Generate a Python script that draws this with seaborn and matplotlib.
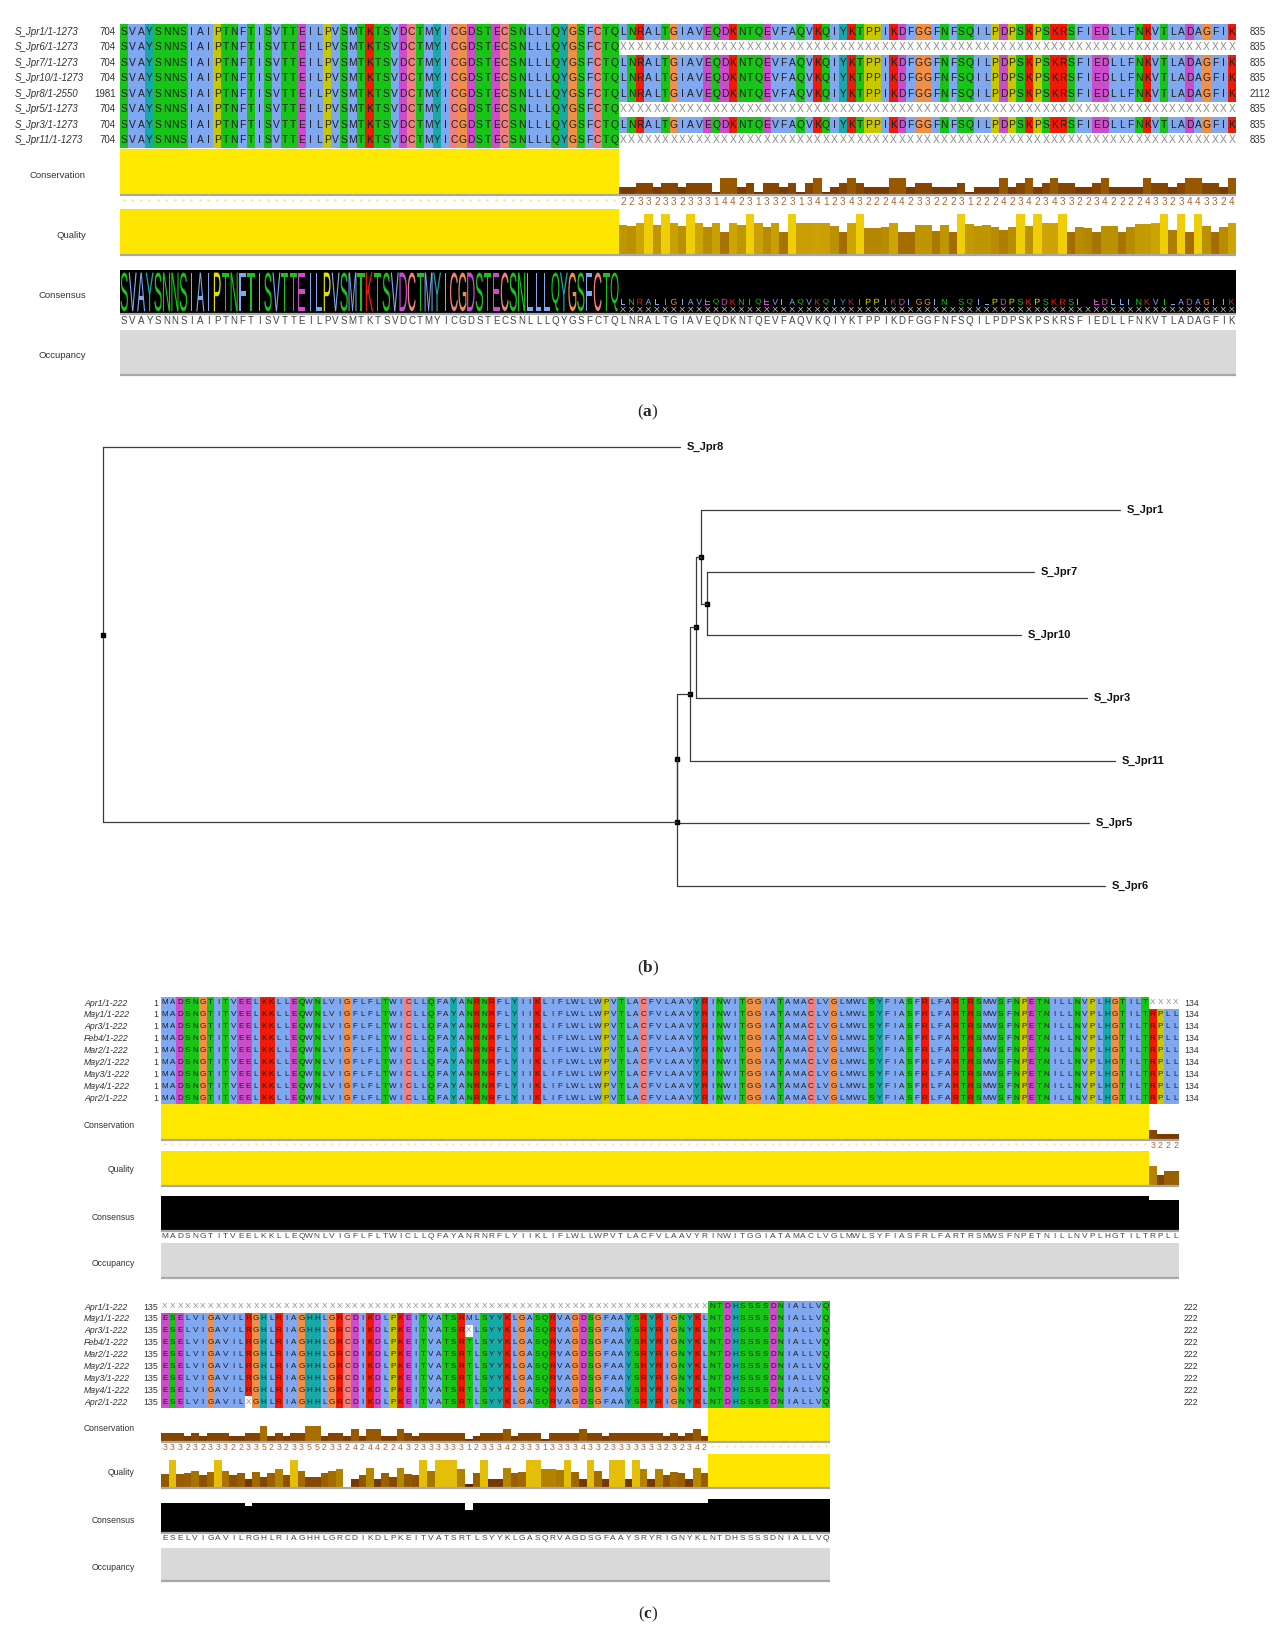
import numpy as np
import matplotlib
matplotlib.use("Agg")
import matplotlib.pyplot as plt
import seaborn as sns
from matplotlib.colors import ListedColormap, LinearSegmentedColormap
from matplotlib.textpath import TextPath
from matplotlib.patches import PathPatch
from matplotlib.font_manager import FontProperties
from matplotlib.transforms import Affine2D

sns.set_style("white")
plt.rcParams['font.family'] = ['Liberation Sans', 'DejaVu Sans']
plt.rcParams['mathtext.fontset'] = 'custom'
plt.rcParams['mathtext.rm'] = 'Liberation Serif'
plt.rcParams['mathtext.bf'] = 'Liberation Serif:bold'

# ---------------- DATA ----------------
# Panel (a)
A_FULL = "SVAYSNNSIAIPTNFTISVTTEILPVSMTKTSVDCTMYICGDSTECSNLLLQYGSFCTQLNRALTGIAVEQDKNTQEVFAQVKQIYKTPPIKDFGGFNFSQILPDPSKPSKRSFIEDLLFNKVTLADAGFIK"
A_PART = "SVAYSNNSIAIPTNFTISVTTEILPVSMTKTSVDCTMYICGDSTECSNLLLQYGSFCTQ" + "X" * 73
A_LABELS = ["S_Jpr1/1-1273", "S_Jpr6/1-1273", "S_Jpr7/1-1273", "S_Jpr10/1-1273",
            "S_Jpr8/1-2550", "S_Jpr5/1-1273", "S_Jpr3/1-1273", "S_Jpr11/1-1273"]
A_START = [704, 704, 704, 704, 1981, 704, 704, 704]
A_END = [835, 835, 835, 835, 2112, 835, 835, 835]
A_SEQS = [A_FULL, A_PART, A_FULL, A_FULL, A_FULL, A_PART, A_FULL, A_PART]
A_CONS = [11] * 59 + [2, 2, 3, 3, 2, 3, 3, 2, 3, 3,
                      3, 1, 4, 4, 2, 3, 1, 3, 3, 2,
                      3, 1, 3, 4, 1, 2, 3, 4, 3, 2,
                      2, 2, 4, 4, 2, 3, 3, 2, 2, 2,
                      3, 1, 2, 2, 2, 4, 2, 3, 4, 2,
                      3, 4, 3, 3, 2, 2, 3, 4, 2, 2,
                      2, 2, 4, 3, 3, 2, 3, 4, 4, 3,
                      3, 2, 4]
A_QUAL = [1.0] * 59 + [0.64, 0.62, 0.70, 0.88, 0.64, 0.88, 0.68, 0.62, 0.88, 0.70,
                       0.60, 0.68, 0.50, 0.70, 0.64, 0.88, 0.68, 0.60, 0.68, 0.50,
                       0.88, 0.68, 0.68, 0.69, 0.68, 0.62, 0.48, 0.70, 0.88, 0.58,
                       0.58, 0.60, 0.70, 0.48, 0.48, 0.64, 0.64, 0.52, 0.64, 0.48,
                       0.88, 0.66, 0.63, 0.64, 0.60, 0.54, 0.60, 0.88, 0.62, 0.88,
                       0.70, 0.70, 0.88, 0.48, 0.60, 0.58, 0.50, 0.62, 0.62, 0.50,
                       0.60, 0.66, 0.66, 0.70, 0.88, 0.54, 0.88, 0.48, 0.88, 0.62,
                       0.48, 0.60, 0.70]

# Panel (b) tree: (child, branch length); child is a leaf name or a list of children
TREE = [("S_Jpr8", 0.577),
        ([([([([([("S_Jpr1", 0.419),
                   ([("S_Jpr7", 0.327), ("S_Jpr10", 0.314)], 0.006)], 0.005),
                 ("S_Jpr3", 0.391)], 0.006),
               ("S_Jpr11", 0.425)], 0.013),
             ("S_Jpr5", 0.412)], 0.0),
          ("S_Jpr6", 0.428)], 0.574)]

# Panel (c)
C_LABELS = ["Apr1/1-222", "May1/1-222", "Apr3/1-222", "Feb4/1-222", "Mar2/1-222",
            "May2/1-222", "May3/1-222", "May4/1-222", "Apr2/1-222"]
C1_FULL = "MADSNGTITVEELKKLLEQWNLVIGFLFLTWICLLQFAYANRNRFLYIIKLIFLWLLWPVTLACFVLAAVYRINWITGGIATAMACLVGLMWLSYFIASFRLFARTRSMWSFNPETNILLNVPLHGTILTRPLL"
C1_APR1 = "MADSNGTITVEELKKLLEQWNLVIGFLFLTWICLLQFAYANRNRFLYIIKLIFLWLLWPVTLACFVLAAVYRINWITGGIATAMACLVGLMWLSYFIASFRLFARTRSMWSFNPETNILLNVPLHGTILTXXXX"
C1_SEQS = [C1_APR1] + [C1_FULL] * 8
C2_FULL = "ESELVIGAVILRGHLRIAGHHLGRCDIKDLPKEITVATSRTLSYYKLGASQRVAGDSGFAAYSRYRIGNYKLNTDHSSSSDNIALLVQ"
C2_APR1 = "X" * 72 + "NTDHSSSSDNIALLVQ"
C2_MAY1 = "ESELVIGAVILRGHLRIAGHHLGRCDIKDLPKEITVATSRMLSYYKLGASQRVAGDSGFAAYSRYRIGNYKLNTDHSSSSDNIALLVQ"
C2_APR3 = "ESELVIGAVILRGHLRIAGHHLGRCDIKDLPKEITVATSRXLSYYKLGASQRVAGDSGFAAYSRYRIGNYKLNTDHSSSSDNIALLVQ"
C2_APR2 = "ESELVIGAVILXGHLRIAGHHLGRCDIKDLPKEITVATSRTLSYYKLGASQRVAGDSGFAAYSRYRIGNYKLNTDHSSSSDNIALLVQ"
C2_SEQS = [C2_APR1, C2_MAY1, C2_APR3, C2_FULL, C2_FULL, C2_FULL, C2_FULL, C2_FULL, C2_APR2]
C1_CONS = [11] * 130 + [3, 2, 2, 2]
C1_QUAL = [1.0] * 130 + [0.56, 0.30, 0.42, 0.42]
C2_CONS = [3, 3, 3, 2, 3, 2, 3, 3, 3, 2,
           2, 3, 3, 5, 2, 3, 2, 3, 3, 5,
           5, 2, 3, 3, 2, 4, 2, 4, 4, 2,
           2, 4, 3, 2, 3, 3, 3, 3, 3, 3,
           1, 2, 3, 3, 3, 4, 2, 3, 3, 3,
           1, 3, 3, 3, 3, 4, 3, 3, 2, 3,
           3, 3, 3, 3, 3, 3, 2, 3, 2, 3,
           4, 2] + [11] * 16
C2_QUAL = [0.39, 0.81, 0.40, 0.42, 0.50, 0.35, 0.46, 0.81, 0.50, 0.35,
           0.41, 0.23, 0.46, 0.30, 0.42, 0.56, 0.35, 0.81, 0.47, 0.31,
           0.31, 0.42, 0.47, 0.56, 0.00, 0.23, 0.37, 0.58, 0.23, 0.42,
           0.31, 0.58, 0.39, 0.35, 0.81, 0.50, 0.81, 0.81, 0.81, 0.56,
           0.10, 0.42, 0.81, 0.23, 0.23, 0.58, 0.42, 0.46, 0.81, 0.81,
           0.56, 0.56, 0.53, 0.81, 0.46, 0.23, 0.81, 0.47, 0.23, 0.81,
           0.81, 0.23, 0.81, 0.56, 0.23, 0.56, 0.35, 0.46, 0.42, 0.23,
           0.58, 0.41] + [1.0] * 16

# ---------------- STYLE ----------------
CLASS = {'A': 1, 'I': 1, 'L': 1, 'M': 1, 'F': 1, 'W': 1, 'V': 1,
         'K': 2, 'R': 2, 'N': 3, 'Q': 3, 'S': 3, 'T': 3, 'E': 4, 'D': 4,
         'G': 5, 'P': 6, 'H': 7, 'Y': 7, 'C': 8, 'X': 0}
COLORS = ['#ffffff', '#80a8f0', '#f01a08', '#18c418', '#cc4ccc', '#f09048',
          '#c8c800', '#18a8a8', '#f08080']
LOGO_COLORS = ['#d0d0d0', '#80a8f0', '#f01a08', '#18c418', '#cc4ccc', '#f09048',
               '#e0e000', '#18a8a8', '#f08080']
CONS_COL = {1: '#6b3000', 2: '#7a3a00', 3: '#864600', 4: '#975800', 5: '#a86e00', 11: '#ffe800'}
QCMAP = LinearSegmentedColormap.from_list(
    'q', [(0, '#4a2000'), (0.25, '#7a3c00'), (0.45, '#a06600'), (0.6, '#b88c00'),
          (0.83, '#e8c20a'), (1.0, '#ffe600')])
LINE_GRAY = '#a8a8a8'

W, H = 1277, 1650
fig = plt.figure(figsize=(W / 100, H / 100), dpi=100)
fig.patch.set_facecolor('white')


def rect_ax(x0, y0, x1, y1):
    ax = fig.add_axes([x0 / W, 1 - y1 / H, (x1 - x0) / W, (y1 - y0) / H])
    ax.set_axis_off()
    return ax


def ftext(x, y, s, **kw):
    fig.text(x / W, 1 - y / H, s, **kw)


def draw_alignment(rect, seqs, fs):
    ax = rect_ax(*rect)
    letters = np.array([list(s) for s in seqs])
    data = np.vectorize(lambda c: CLASS.get(c, 0))(letters)
    sns.heatmap(data, annot=letters, fmt='', cmap=ListedColormap(COLORS),
                vmin=-0.5, vmax=len(COLORS) - 0.5, cbar=False,
                xticklabels=False, yticklabels=False, linewidths=0, ax=ax,
                annot_kws=dict(fontsize=fs, color='#1e1e1e'))
    for t in ax.texts:
        if t.get_text() == 'X':
            t.set_color('#8c8c8c')
    ax.set_axis_off()
    return ax


def base_ax(rect, n):
    ax = rect_ax(*rect)
    ax.set_xlim(-0.5, n - 0.5)
    ax.set_ylim(0, 1)
    ax.plot([-0.5, n - 0.5], [-0.02, -0.02], color=LINE_GRAY, lw=1.6,
            clip_on=False, solid_capstyle='butt')
    return ax


def draw_conservation(rect, cons, fs, num_dy):
    n = len(cons)
    ax = base_ax(rect, n)
    hts = [min(1.0, (v - 0.5) / 10.0) for v in cons]
    ax.bar(np.arange(n), hts, width=1.0, color=[CONS_COL[v] for v in cons], linewidth=0)
    for i, v in enumerate(cons):
        s = '*' if v == 11 else str(v)
        col = '#f2dc3c' if v == 11 else '#a8683a'
        ax.annotate(s, xy=(i, 0), xycoords=('data', 'axes fraction'),
                    xytext=(0, -num_dy), textcoords='offset points',
                    ha='center', va='center', fontsize=fs if v != 11 else fs - 1.5,
                    color=col)
    return ax


def draw_quality(rect, qual):
    n = len(qual)
    ax = base_ax(rect, n)
    ax.bar(np.arange(n), qual, width=1.0, color=[QCMAP(q) for q in qual], linewidth=0)
    return ax


def column_identity(seqs):
    n = len(seqs[0])
    out = []
    for i in range(n):
        col = [s[i] for s in seqs if s[i] != 'X']
        best = max(col.count(c) for c in set(col)) if col else 0
        out.append(best / len(seqs))
    return out


def consensus_string(seqs):
    n = len(seqs[0])
    out = ''
    for i in range(n):
        col = [s[i] for s in seqs if s[i] != 'X']
        out += max(set(col), key=col.count)
    return out


def draw_consensus_text(ax, cons_str, fs, dy):
    for i, ch in enumerate(cons_str):
        ax.annotate(ch, xy=(i, 0), xycoords=('data', 'axes fraction'),
                    xytext=(0, -dy), textcoords='offset points',
                    ha='center', va='center', fontsize=fs, color='#444444')


def draw_occupancy(rect, seqs):
    n = len(seqs[0])
    ax = base_ax(rect, n)
    occ = [sum(1 for s in seqs if s[i] != '-') / len(seqs) for i in range(n)]
    ax.bar(np.arange(n), occ, width=1.0, color='#d9d9d9', linewidth=0)
    return ax


FP = FontProperties(family='Liberation Sans')


def letter_patch(ax, ch, x0, y0, w, h, color):
    tp = TextPath((0, 0), ch, size=1, prop=FP)
    bb = tp.get_extents()
    w_eff = w * min(1.0, bb.width / 0.62)
    xs = x0 + (w - w_eff) / 2.0
    tr = Affine2D().translate(-bb.x0, -bb.y0).scale(w_eff / bb.width, h / bb.height).translate(xs, y0)
    ax.add_patch(PathPatch(tr.transform_path(tp), facecolor=color, edgecolor='none'))


def side_labels(x, ys, fs):
    for name, y in zip(["Conservation", "Quality", "Consensus", "Occupancy"], ys):
        ftext(x, y, name, ha='right', va='center', fontsize=fs, color='#333333')


# ================= PANEL (a) =================
AX0, AX1 = 120, 1236
draw_alignment((AX0, 24, AX1, 148), A_SEQS, 7.4)
for i, (lab, s0, s1) in enumerate(zip(A_LABELS, A_START, A_END)):
    y = 31.7 + i * 15.5
    ftext(15, y, lab, ha='left', va='center', fontsize=7, style='italic', color='#333333')
    ftext(116, y, str(s0), ha='right', va='center', fontsize=7, color='#333333')
    ftext(1250, y, str(s1), ha='left', va='center', fontsize=7, color='#333333')

nA = len(A_FULL)
draw_conservation((AX0, 149, AX1, 194), A_CONS, 7.2, 5.5)
draw_quality((AX0, 209, AX1, 254), A_QUAL)

# consensus logo
axl = base_ax((AX0, 270, AX1, 313), nA)
axl.bar(np.arange(nA), [1.0] * nA, width=1.0, color='black', linewidth=0)
identA = column_identity(A_SEQS)
consA = consensus_string(A_SEQS)
for i, ch in enumerate(consA):
    c = LOGO_COLORS[CLASS[ch]]
    if identA[i] >= 0.999:
        letter_patch(axl, ch, i - 0.47, 0.04, 0.94, 0.9, c)
    else:
        letter_patch(axl, ch, i - 0.33, 0.19, 0.66, 0.14, c)
        letter_patch(axl, 'X', i - 0.33, 0.03, 0.66, 0.11, LOGO_COLORS[0])
draw_consensus_text(axl, consA, 7, 6)
draw_occupancy((AX0, 330, AX1, 374), A_SEQS)
side_labels(86, [176, 236, 296, 356], 6.8)
ftext(648, 412, r'($\mathbf{a}$)', ha='center', va='center', fontsize=12.5,
      family='Liberation Serif')

# ================= PANEL (b) =================
axt = rect_ax(103, 447, 1120, 886)
axt.set_xlim(0, 1.017)
axt.set_ylim(7, 0)
leaf_counter = [0]
TREE_COL = '#3c3c3c'


def layout(children, x):
    ys = []
    for child, length in children:
        cx = x + length
        if isinstance(child, str):
            cy = leaf_counter[0]
            leaf_counter[0] += 1
            axt.annotate(child, xy=(cx, cy), xytext=(5, 0), textcoords='offset points',
                         ha='left', va='center', fontsize=8, fontweight='bold',
                         color='#111111', annotation_clip=False)
        else:
            cy = layout(child, cx)
        axt.plot([x, cx], [cy, cy], color=TREE_COL, lw=0.9, clip_on=False)
        ys.append(cy)
    axt.plot([x, x], [min(ys), max(ys)], color=TREE_COL, lw=0.9, clip_on=False)
    y = (ys[0] + ys[-1]) / 2.0
    axt.plot([x], [y], marker='s', ms=2.6, color='black', clip_on=False)
    return y


layout(TREE, 0.0)
ftext(648, 968, r'($\mathbf{b}$)', ha='center', va='center', fontsize=12.5,
      family='Liberation Serif')

# ================= PANEL (c) =================
CX0 = 161
COLW = 7.6


def panel_c_block(seqs, start, end_num, cons, qual, y_rows0, ann):
    n = len(seqs[0])
    x1 = CX0 + n * COLW
    row_h = 11.9
    draw_alignment((CX0, y_rows0 - row_h / 2, x1, y_rows0 + row_h * 8.5), seqs, 5.9)
    for i, lab in enumerate(C_LABELS):
        y = y_rows0 + i * row_h
        ftext(84, y, lab, ha='left', va='center', fontsize=6.3, style='italic', color='#333333')
        ftext(158, y, str(start), ha='right', va='center', fontsize=6.3, color='#333333')
        ftext(1184, y, str(end_num), ha='left', va='center', fontsize=6.3, color='#333333')
    cy0, cy1, qy0, qy1, ky0, ky1, oy0, oy1 = ann
    draw_conservation((CX0, cy0, x1, cy1), cons, 6.3, 5)
    draw_quality((CX0, qy0, x1, qy1), qual)
    axk = base_ax((CX0, ky0, x1, ky1), n)
    ident = column_identity(seqs)
    axk.bar(np.arange(n), ident, width=1.0, color='black', linewidth=0)
    draw_consensus_text(axk, consensus_string(seqs), 6, 5)
    draw_occupancy((CX0, oy0, x1, oy1), seqs)
    side_labels(135, [(cy0 + cy1) / 2 + 4, (qy0 + qy1) / 2 + 2, (ky0 + ky1) / 2 + 5,
                      (oy0 + oy1) / 2 + 3], 6.2)


panel_c_block(C1_SEQS, 1, 134, C1_CONS, C1_QUAL, 1003,
              (1104, 1139, 1151, 1185, 1196, 1230, 1243, 1277))
panel_c_block(C2_SEQS, 135, 222, C2_CONS, C2_QUAL, 1307,
              (1408, 1441, 1454, 1487, 1499, 1532, 1548, 1580))
ftext(648, 1614, r'($\mathbf{c}$)', ha='center', va='center', fontsize=12.5,
      family='Liberation Serif')

fig.savefig('out.png', dpi=100, facecolor='white')
